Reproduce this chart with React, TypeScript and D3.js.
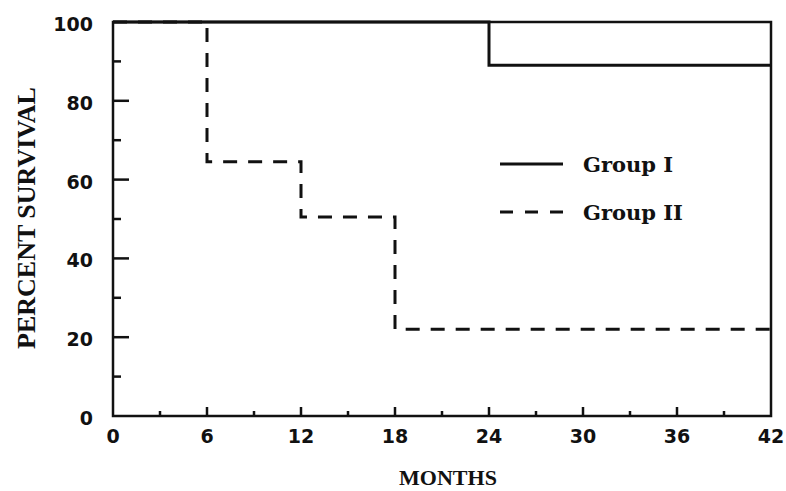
import React, { useRef, useEffect } from 'react';
import * as d3 from 'd3';

const months = [0, 6, 12, 18, 24, 30, 36, 42];
const percentTicks = [0, 20, 40, 60, 80, 100];
const groupITimes = [0, 24, 42];
const groupIValues = [100, 89, 89];
const groupIITimes = [0, 6, 12, 18, 42];
const groupIIValues = [100, 64.5, 50.5, 22, 22];

const App = () => {
  const svgRef = useRef<SVGSVGElement>(null);

  useEffect(() => {
    const margin = { top: 22, right: 15, bottom: 75, left: 113 };
    const W = 786, H = 491;
    const width = W - margin.left - margin.right;
    const height = H - margin.top - margin.bottom;

    const svg = d3.select(svgRef.current)
      .attr('width', W)
      .attr('height', H)
      .style('background', 'white')
      .style('position', 'absolute')
      .style('left', '0px')
      .style('top', '0px');

    svg.selectAll('*').remove();

    const x = d3.scaleLinear().domain([0, 42]).range([0, width]);
    const y = d3.scaleLinear().domain([0, 100]).range([height, 0]);

    const g = svg.append('g').attr('transform', `translate(${margin.left}, ${margin.top})`);

    // frame
    g.append('rect')
      .attr('x', 0).attr('y', 0)
      .attr('width', width).attr('height', height)
      .attr('fill', 'none').attr('stroke', '#111').attr('stroke-width', 2.5);

    // ticks point inward
    const yMinor = d3.range(10, 100, 20);
    const yMajor = percentTicks.filter(d => d > 0 && d < 100);
    g.selectAll('.ymaj').data(yMajor).enter().append('line')
      .attr('x1', 0).attr('x2', 16).attr('y1', d => y(d)).attr('y2', d => y(d))
      .attr('stroke', '#111').attr('stroke-width', 2.5);
    g.selectAll('.ymin').data(yMinor).enter().append('line')
      .attr('x1', 0).attr('x2', 8).attr('y1', d => y(d)).attr('y2', d => y(d))
      .attr('stroke', '#111').attr('stroke-width', 2.5);

    const xMajor = months.filter(d => d > 0 && d < 42);
    const xMinor = d3.range(3, 42, 6);
    g.selectAll('.xmaj').data(xMajor).enter().append('line')
      .attr('x1', d => x(d)).attr('x2', d => x(d)).attr('y1', height).attr('y2', height - 9)
      .attr('stroke', '#111').attr('stroke-width', 2.5);
    g.selectAll('.xmin').data(xMinor).enter().append('line')
      .attr('x1', d => x(d)).attr('x2', d => x(d)).attr('y1', height).attr('y2', height - 5)
      .attr('stroke', '#111').attr('stroke-width', 2.5);

    // tick labels
    const tickFont = '"DejaVu Sans", sans-serif';
    g.selectAll('.ylab').data(percentTicks).enter().append('text')
      .attr('x', -20).attr('y', d => y(d) + 9)
      .attr('text-anchor', 'end')
      .attr('font-family', tickFont).attr('font-weight', 'bold').attr('font-size', 19)
      .attr('fill', '#111')
      .text(d => d);
    g.selectAll('.xlab').data(months).enter().append('text')
      .attr('x', d => x(d)).attr('y', height + 27)
      .attr('text-anchor', 'middle')
      .attr('font-family', tickFont).attr('font-weight', 'bold').attr('font-size', 19)
      .attr('fill', '#111')
      .text(d => d);

    // survival curves
    const line = d3.line<[number, number]>()
      .x(d => x(d[0]))
      .y(d => y(d[1]))
      .curve(d3.curveStepAfter);

    const g1 = groupITimes.map((t, i) => [t, groupIValues[i]] as [number, number]);
    const g2 = groupIITimes.map((t, i) => [t, groupIIValues[i]] as [number, number]);

    g.append('path').attr('d', line(g1))
      .attr('fill', 'none').attr('stroke', '#111').attr('stroke-width', 3);
    g.append('path').attr('d', line(g2))
      .attr('fill', 'none').attr('stroke', '#111').attr('stroke-width', 3)
      .attr('stroke-dasharray', '14,11');

    // legend
    const legendFont = '"DejaVu Serif", serif';
    const legend = [
      { name: 'Group I', dash: null, ly: 164, ty: 172 },
      { name: 'Group II', dash: '13,12', ly: 212, ty: 220 },
    ];
    legend.forEach(l => {
      svg.append('line')
        .attr('x1', 500).attr('x2', 563).attr('y1', l.ly).attr('y2', l.ly)
        .attr('stroke', '#111').attr('stroke-width', 3)
        .attr('stroke-dasharray', l.dash);
      svg.append('text')
        .attr('x', 583).attr('y', l.ty)
        .attr('font-family', legendFont).attr('font-weight', 'bold').attr('font-size', 21)
        .attr('fill', '#111')
        .text(l.name);
    });

    // axis titles
    const titleFont = '"Liberation Serif", "Times New Roman", serif';
    svg.append('text')
      .attr('x', 448).attr('y', 485)
      .attr('text-anchor', 'middle')
      .attr('font-family', titleFont).attr('font-weight', 'bold').attr('font-size', 22)
      .attr('fill', '#111')
      .text('MONTHS');
    svg.append('text')
      .attr('transform', `translate(35, 218) rotate(-90)`)
      .attr('text-anchor', 'middle')
      .attr('font-family', titleFont).attr('font-weight', 'bold').attr('font-size', 26)
      .attr('fill', '#111')
      .text('PERCENT SURVIVAL');
  }, []);

  return <svg ref={svgRef}></svg>;
};

export default App;
